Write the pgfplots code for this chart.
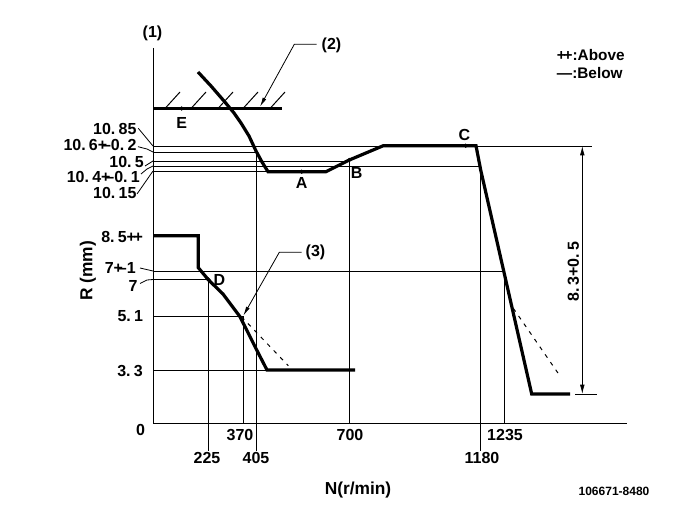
\documentclass[border=0pt]{standalone}
\usepackage{pgfplots}
\pgfplotsset{compat=1.18}
\usepackage{fontspec}
\setmainfont{Liberation Sans}
\usetikzlibrary{arrows.meta}
% schematic governor curve, drawn in its own (not to scale) plot units
\newcommand{\pmk}{+\kern-0.32em–}
\newcommand{\dt}{.\kern0.2em}
\newcommand{\lf}{\fontsize{12}{12}\selectfont\bfseries}
\newcommand{\smf}{\fontsize{11.5}{11.5}\selectfont\bfseries}
\tikzset{
  ln/.style={black, line width=0.75pt},
  tk/.style={black, line width=2.4pt, line join=miter},
  ds/.style={black, line width=0.75pt, dash pattern=on 3pt off 4pt},
  lead/.style={black, line width=0.6pt},
}
\begin{document}
\begin{tikzpicture}
\begin{axis}[
  scale only axis, width=513.75pt, height=389.25pt,
  xmin=-153, xmax=532, ymin=-96, ymax=423,
  hide axis, clip=false,
]
% axes
\addplot[ln] coordinates {(0,375) (0,0) (474,0)};
% stop line (2) with hatching
\addplot[tk] coordinates {(0,314.5) (128.5,314.5)};
\addplot[ln] coordinates {(12,314.5) (27,331)};
\addplot[ln] coordinates {(38,314.5) (53,331)};
\addplot[ln] coordinates {(65,314.5) (80,331)};
\addplot[ln] coordinates {(90,314.5) (105,331)};
\addplot[ln] coordinates {(117,314.5) (132,331)};
% reference lines
\addplot[ln] coordinates {(0,277) (439,277)};
\addplot[ln] coordinates {(0,271) (103,271)};
\addplot[ln] coordinates {(0,262) (196.5,262)};
\addplot[ln] coordinates {(0,257) (327.7,257)};
\addplot[ln] coordinates {(0,252) (115,252)};
\addplot[ln] coordinates {(0,151.5) (352,151.5)};
\addplot[ln] coordinates {(0,143.5) (55.3,143.5)};
\addplot[ln] coordinates {(0,106.7) (90.5,106.7)};
\addplot[ln] coordinates {(0,53) (114,53)};
\addplot[ln] coordinates {(422,29) (444,29)};
% verticals
\addplot[ln] coordinates {(55.3,143.5) (55.3,-28)};
\addplot[ln] coordinates {(90.5,106.7) (90.5,0)};
\addplot[ln] coordinates {(103,271) (103,-28)};
\addplot[ln] coordinates {(196.5,263) (196.5,0)};
\addplot[ln] coordinates {(327.3,257) (327.3,-28)};
\addplot[ln] coordinates {(351.5,151.5) (351.5,0)};
% upper characteristic
\addplot[tk] coordinates {(45,351) (58,337) (71,322) (81,310) (88,300) (96,287) (103,272) (109,261) (115,251.3)
  (173,251.3) (196.3,263) (230.3,277.3) (323,277.3) (327.7,253) (378.7,29) (417,29)};
\addplot[ds] coordinates {(360.3,114.7) (407,47)};
% lower characteristic
\addplot[tk] coordinates {(0,187.3) (45.3,187.3) (45.3,155.3) (55.3,143.3) (70,129) (87,106.3) (103.7,73) (114,53) (202,53)};
\addplot[ds] coordinates {(82,113) (135.3,57.3)};
% points A B C D E
\addplot[only marks, mark=*, mark size=1.4pt, black] coordinates {(28.7,314.5) (148.7,251.3) (196.3,263) (312.7,277.3) (55.3,143.5)};
% dimension 8.3+0.5
\addplot[lead, {Latex[length=7pt,width=3.5pt]}-{Latex[length=7pt,width=3.5pt]}] coordinates {(429.3,277) (429.3,29)};
% leaders (2) and (3)
\addplot[lead, -{Latex[length=7pt,width=3pt]}] coordinates {(163.7,378.7) (141.3,378.7) (107,316.3)};
\addplot[lead, -{Latex[length=7pt,width=3pt]}] coordinates {(148.7,170.7) (126.3,170.7) (90.3,107.3)};
% label leaders
\addplot[lead] coordinates {(-14.7,294.7) (0,277)};
\addplot[lead] coordinates {(-15,276.3) (-6,274) (0,271)};
\addplot[lead] coordinates {(-8,257) (0,262)};
\addplot[lead] coordinates {(-12,249) (-6,254) (0,257)};
\addplot[lead] coordinates {(-16,229) (0,252)};
\addplot[lead] coordinates {(-13,155) (0,152)};
\addplot[lead] coordinates {(-13,139.5) (-6,143) (0,143.5)};

% texts
\node[font=\lf] at (axis cs:-0.5,389.7) {(1)};
\node[font=\lf, anchor=west] at (axis cs:164,378) {(2)};
\node[font=\lf, anchor=west] at (axis cs:148,171) {(3)};
\node[font=\lf] at (axis cs:28.7,299.7) {E};
\node[font=\lf] at (axis cs:148.7,240) {A};
\node[font=\lf] at (axis cs:203.7,250) {B};
\node[font=\lf] at (axis cs:311.3,288) {C};
\node[font=\lf] at (axis cs:66.3,143) {D};
\node[font=\smf, anchor=west, inner sep=0pt] at (axis cs:403.7,368) {+\kern-0.15em+:Above};
\node[font=\smf, anchor=west, inner sep=0pt] at (axis cs:403.7,349.7) {—:Below};

\node[font=\lf, anchor=east, inner sep=0pt] at (axis cs:-16.3,294) {10\dt85};
\node[font=\lf, anchor=east, inner sep=0pt] at (axis cs:-16.3,278) {10\dt6\pmk0\dt2};
\node[font=\lf, anchor=east, inner sep=0pt] at (axis cs:-9,261) {10\dt5};
\node[font=\lf, anchor=east, inner sep=0pt] at (axis cs:-13,246) {10\dt4\pmk0\dt1};
\node[font=\lf, anchor=east, inner sep=0pt] at (axis cs:-16.3,230.5) {10\dt15};
\node[font=\lf, anchor=east, inner sep=0pt] at (axis cs:-9.7,186.3) {8\dt5+\kern-0.15em+};
\node[font=\lf, anchor=east, inner sep=0pt] at (axis cs:-17,154.7) {7\pmk1};
\node[font=\lf, anchor=east, inner sep=0pt] at (axis cs:-15.3,137) {7};
\node[font=\lf, anchor=east, inner sep=0pt] at (axis cs:-9.7,107) {5\dt1};
\node[font=\lf, anchor=east, inner sep=0pt] at (axis cs:-10,52.3) {3\dt3};
\node[font=\lf] at (axis cs:-12.5,-7) {0};

\node[font=\lf] at (axis cs:87,-12) {370};
\node[font=\lf] at (axis cs:197,-12) {700};
\node[font=\lf] at (axis cs:352,-12) {1235};
\node[font=\lf] at (axis cs:54,-35) {225};
\node[font=\lf] at (axis cs:103,-35) {405};
\node[font=\lf] at (axis cs:329,-35) {1180};

\node[font=\lf, rotate=90] at (axis cs:420.3,151.3) {8\dt3+0\dt5};
\node[font=\fontsize{13}{13}\selectfont\bfseries, rotate=90] at (axis cs:-65,152) {R (mm)};
\node[font=\fontsize{13}{13}\selectfont\bfseries] at (axis cs:205,-67) {N(r/min)};
\node[font=\fontsize{9}{9}\selectfont\bfseries] at (axis cs:461,-68) {106671-8480};
\path (axis cs:-153,-96) rectangle (axis cs:532,423);
\end{axis}
\end{tikzpicture}
\end{document}
